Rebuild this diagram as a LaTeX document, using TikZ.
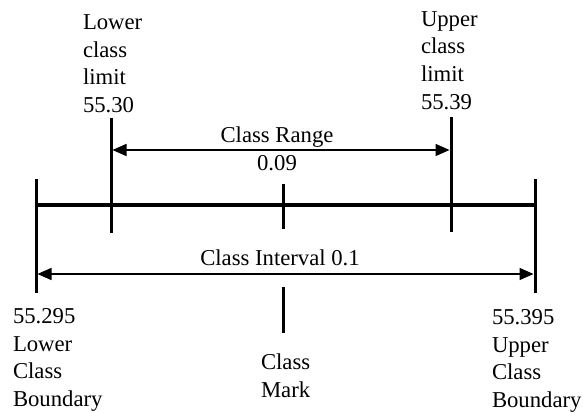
\documentclass[tikz,border=0pt]{standalone}
\usepackage{fontspec}
\setmainfont{Liberation Serif}
\usetikzlibrary{arrows.meta}

\begin{document}
\begin{tikzpicture}[x=1pt,y=-1pt]
  \tikzstyle{tick}=[line width=3pt];
  \tikzstyle{axis}=[line width=4pt];
  \tikzstyle{span}=[line width=1.5pt,
    {Triangle[length=14pt,width=12pt]}-{Triangle[length=14pt,width=12pt]}];
  \tikzstyle{lbl}=[inner sep=0pt, outer sep=0pt, align=left,
    font=\fontsize{22.7}{27.5}\selectfont];
  \useasboundingbox (0,0) rectangle (583,412);
  % the class line and its ticks
  \coordinate (lowbnd top) at (36,179);  \coordinate (lowbnd bot) at (36,293);
  \coordinate (upbnd top) at (535,179);  \coordinate (upbnd bot) at (535,293);
  \coordinate (lowlim top) at (111,118); \coordinate (lowlim bot) at (111,233);
  \coordinate (uplim top) at (451,117);  \coordinate (uplim bot) at (451,232);
  \coordinate (mark top) at (283,184);   \coordinate (mark bot) at (283,229);
  \coordinate (mark2 top) at (283,287);  \coordinate (mark2 bot) at (283,333);
  \coordinate (axis w) at (36,205);      \coordinate (axis e) at (535,205);
  \draw[style=axis] (axis w) -- (axis e);
  \foreach \t in {lowbnd,upbnd,lowlim,uplim,mark,mark2}
    \draw[style=tick] (\t\space top) -- (\t\space bot);
  % the two spans
  \coordinate (range w) at (112.5,150);  \coordinate (range e) at (449.5,150);
  \coordinate (int w) at (37.5,274);     \coordinate (int e) at (533.5,274);
  \draw[style=span] (range w) -- (range e);
  \draw[style=span] (int w) -- (int e);
  % labels (base is the last line)
  \node[style=lbl, anchor=base west] (lowlim) at (83,112)
    {Lower\\class\\limit\\55.30};
  \node[style=lbl, anchor=base west] (uplim) at (421,109)
    {Upper\\class\\limit\\55.39};
  \node[style=lbl, align=center, anchor=base] (range) at (277,170)
    {Class Range\\0.09};
  \node[style=lbl, anchor=base] (interval) at (280,265) {Class Interval 0.1};
  \node[style=lbl, anchor=base west] (lowbndtxt) at (13,406)
    {55.295\\Lower\\Class\\Boundary};
  \node[style=lbl, anchor=base west] (marktxt) at (261,397) {Class\\Mark};
  \node[style=lbl, anchor=base west] (upbndtxt) at (492,407)
    {55.395\\Upper\\Class\\Boundary};
\end{tikzpicture}
\end{document}
